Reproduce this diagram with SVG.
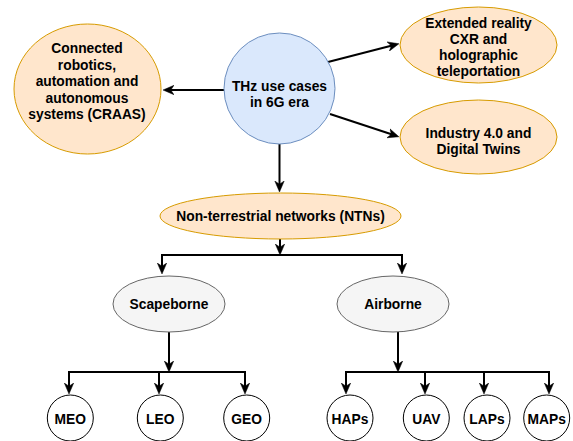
<svg xmlns="http://www.w3.org/2000/svg" width="573" height="441" viewBox="0 0 573 441">
  <style>
    .lbl { font-family: "Liberation Sans", Arial, Helvetica, sans-serif; font-weight: bold; font-size: 13.8px; fill: #000; text-anchor: middle; }
    .orange { fill: #ffe6cc; stroke: #d79b00; stroke-width: 1; }
    .blue { fill: #dae8fc; stroke: #6c8ebf; stroke-width: 1; }
    .grey { fill: #f5f5f5; stroke: #666666; stroke-width: 1; }
    .leaf { fill: #ffffff; stroke: #000000; stroke-width: 1; }
    .edge { fill: none; stroke: #000; stroke-width: 2; }
  </style>
  <defs>
    <marker id="arrow" viewBox="0 0 11 11" refX="8" refY="5.5" markerWidth="11" markerHeight="11" markerUnits="userSpaceOnUse" orient="auto">
      <path d="M0,0.8 L11,5.5 L0,10.2 L3.2,5.5 Z" fill="#000" stroke="#000" stroke-width="0.5" stroke-linejoin="miter"/>
    </marker>
  </defs>

  <!-- connectors -->
  <g id="connectors">
    <path class="edge" d="M224,90 L166,90" marker-end="url(#arrow)"/>
    <path class="edge" d="M328,62 L396,44.5" marker-end="url(#arrow)"/>
    <path class="edge" d="M330,114 L396,135.8" marker-end="url(#arrow)"/>
    <path class="edge" d="M279.5,144 L279.5,189" marker-end="url(#arrow)"/>

    <path class="edge" d="M280,239 L280,252" marker-end="url(#arrow)"/>
    <path class="edge" d="M280,255 L162,255 L162,271" marker-end="url(#arrow)"/>
    <path class="edge" d="M280,255 L402,255 L402,271" marker-end="url(#arrow)"/>

    <path class="edge" d="M169,332 L169,369" marker-end="url(#arrow)"/>
    <path class="edge" d="M169,372 L69,372 L69,391" marker-end="url(#arrow)"/>
    <path class="edge" d="M169,372 L159,372 L159,391" marker-end="url(#arrow)"/>
    <path class="edge" d="M169,372 L245,372 L245,391" marker-end="url(#arrow)"/>

    <path class="edge" d="M398,332 L398,369" marker-end="url(#arrow)"/>
    <path class="edge" d="M398,372 L346,372 L346,391" marker-end="url(#arrow)"/>
    <path class="edge" d="M398,372 L425,372 L425,391" marker-end="url(#arrow)"/>
    <path class="edge" d="M398,372 L484,372 L484,391" marker-end="url(#arrow)"/>
    <path class="edge" d="M398,372 L549,372 L549,391" marker-end="url(#arrow)"/>
  </g>

  <!-- nodes -->
  <g id="thz">
    <circle class="blue" cx="279.5" cy="88.5" r="55.5"/>
    <text class="lbl" x="279.5" y="90.5">THz use cases</text>
    <text class="lbl" x="279.5" y="106.5">in 6G era</text>
  </g>

  <g id="craas">
    <ellipse class="orange" cx="87.5" cy="89" rx="73.5" ry="65"/>
    <text class="lbl" x="87" y="53.3">Connected</text>
    <text class="lbl" x="87" y="69.8">robotics,</text>
    <text class="lbl" x="87" y="86.3">automation and</text>
    <text class="lbl" x="87" y="102.8">autonomous</text>
    <text class="lbl" x="87" y="119.3">systems (CRAAS)</text>
  </g>

  <g id="xr">
    <ellipse class="orange" cx="478.5" cy="45" rx="78.5" ry="38"/>
    <text class="lbl" x="478.5" y="27.5">Extended reality</text>
    <text class="lbl" x="478.5" y="43.8">CXR and</text>
    <text class="lbl" x="478.5" y="60.1">holographic</text>
    <text class="lbl" x="478.5" y="76.4">teleportation</text>
  </g>

  <g id="industry">
    <ellipse class="orange" cx="478.5" cy="137" rx="78.5" ry="37"/>
    <text class="lbl" x="478.5" y="138.3">Industry 4.0 and</text>
    <text class="lbl" x="478.5" y="154.3">Digital Twins</text>
  </g>

  <g id="ntn">
    <ellipse class="orange" cx="280.5" cy="216" rx="120.5" ry="23"/>
    <text class="lbl" x="280.5" y="221">Non-terrestrial networks (NTNs)</text>
  </g>

  <g id="scapeborne">
    <ellipse class="grey" cx="169" cy="304" rx="56" ry="28"/>
    <text class="lbl" x="169" y="308.5">Scapeborne</text>
  </g>

  <g id="airborne">
    <ellipse class="grey" cx="393" cy="304" rx="56" ry="28"/>
    <text class="lbl" x="393" y="308.5">Airborne</text>
  </g>

  <g id="meo">
    <circle class="leaf" cx="70.3" cy="418" r="23"/>
    <text class="lbl" x="70.3" y="424">MEO</text>
  </g>
  <g id="leo">
    <circle class="leaf" cx="160.3" cy="418" r="23"/>
    <text class="lbl" x="160.3" y="424">LEO</text>
  </g>
  <g id="geo">
    <circle class="leaf" cx="246.7" cy="418" r="23"/>
    <text class="lbl" x="246.7" y="424">GEO</text>
  </g>
  <g id="haps">
    <circle class="leaf" cx="350" cy="418" r="23"/>
    <text class="lbl" x="350" y="424">HAPs</text>
  </g>
  <g id="uav">
    <circle class="leaf" cx="426.3" cy="418" r="23"/>
    <text class="lbl" x="426.3" y="424">UAV</text>
  </g>
  <g id="laps">
    <circle class="leaf" cx="487" cy="418" r="23"/>
    <text class="lbl" x="487" y="424">LAPs</text>
  </g>
  <g id="maps">
    <circle class="leaf" cx="546.7" cy="418" r="23"/>
    <text class="lbl" x="546.7" y="424">MAPs</text>
  </g>
</svg>
